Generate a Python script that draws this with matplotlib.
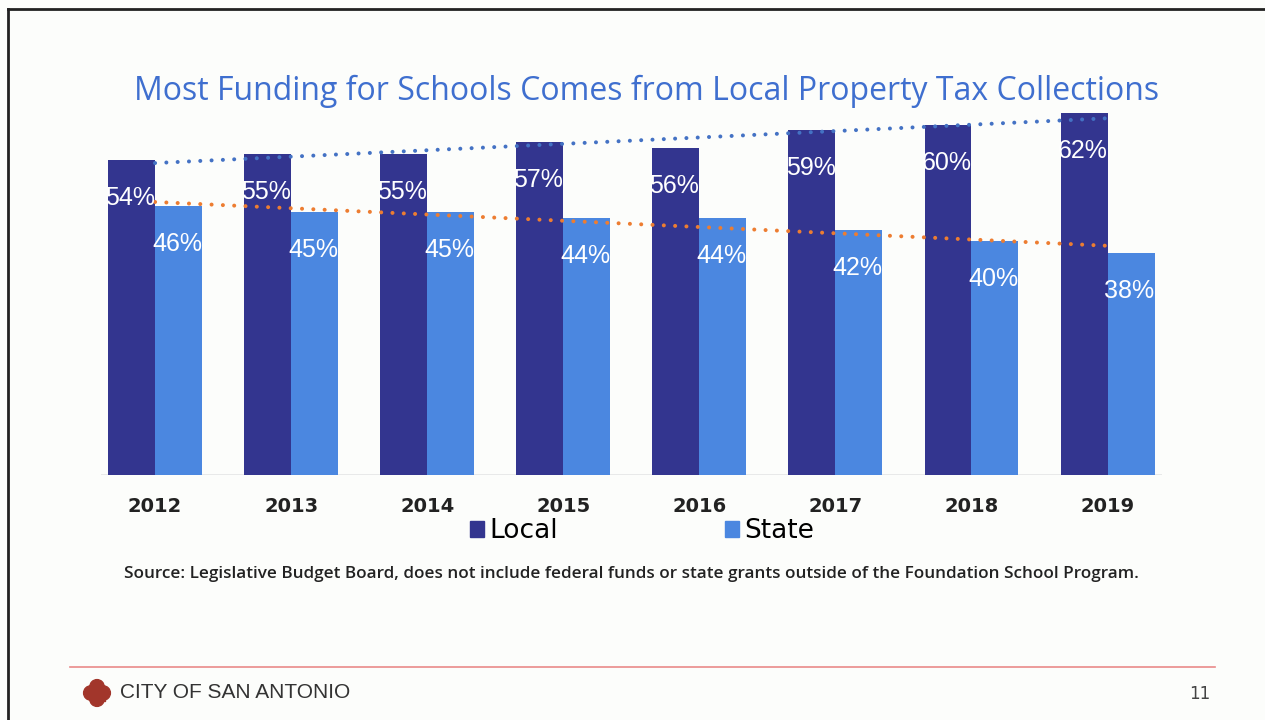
import numpy as np
import matplotlib.pyplot as plt
from matplotlib.lines import Line2D
from matplotlib.patches import Patch

years = ['2012', '2013', '2014', '2015', '2016', '2017', '2018', '2019']
local = [54, 55, 55, 57, 56, 59, 60, 62]
state = [46, 45, 45, 44, 44, 42, 40, 38]

title = 'Most Funding for Schools Comes from Local Property Tax Collections'
source = ('Source: Legislative Budget Board, does not include federal funds or '
          'state grants outside of the Foundation School Program.')

c_local = '#33358f'
c_state = '#4b87e0'

fig = plt.figure(figsize=(12.65, 7.2), dpi=100)
fig.patch.set_facecolor('#fcfdfb')

# axes: baseline at y=475px, 0..70 %
W, H = 1265, 720
left, right = 100.6, 1162
bottom, top = 475, 475 - 70 * 5.84
ax = fig.add_axes([left / W, 1 - bottom / H, (right - left) / W, (bottom - top) / H])
ax.set_facecolor('none')

x = np.arange(len(years))
bw = 0.345
ax.bar(x - bw / 2, local, bw, color=c_local, zorder=2)
ax.bar(x + bw / 2, state, bw, color=c_state, zorder=2)

for i in range(len(years)):
    ax.text(x[i], local[i] - 6.5, f'{local[i]}%', ha='right', va='center',
            color='white', fontsize=18, family='Liberation Sans', zorder=4)
    ax.text(x[i] + bw, state[i] - 6.5, f'{state[i]}%', ha='right', va='center',
            color='white', fontsize=18, family='Liberation Sans', zorder=4)

# linear trendlines
for vals, col in [(local, '#4472c4'), (state, '#ed7d31')]:
    k, b = np.polyfit(x, vals, 1)
    ax.plot(x, k * x + b, linestyle=(0, (0.01, 2.8)), color=col, lw=2.9, zorder=3,
            dash_capstyle='round')

ax.set_xlim(-0.4, 7.4)
ax.set_ylim(0, 70)
ax.axhline(0, color='#e4e6e6', lw=1.2, zorder=1)
for s in ax.spines.values():
    s.set_visible(False)
ax.set_yticks([])
ax.set_xticks(x)
ax.set_xticklabels(years, fontsize=14, fontweight='bold', color='#222222',
                   family='DejaVu Sans')
ax.tick_params(axis='x', length=0, pad=16)

handles = [Patch(color=c_local, label='Local'), Patch(color=c_state, label='State')]
fig.legend(handles=handles, loc='center', bbox_to_anchor=(642 / W, 1 - 531 / H),
           ncol=2, frameon=False, handlelength=0.55, handleheight=0.55,
           handletextpad=0.2, columnspacing=6.3,
           prop={'family': 'DejaVu Sans', 'size': 19})

fig.text(647 / W, 1 - 91 / H, title, ha='center', va='center', fontsize=23,
         color='#3f6fcf', family='Open Sans')
fig.text(631 / W, 1 - 574 / H, source, ha='center', va='center', fontsize=12.3,
         color='#222222', family='Open Sans', fontweight='semibold')

# slide frame and footer
fig.add_artist(Line2D([8 / W, 8 / W], [0, 1 - 9 / H], color='#222222', lw=2))
fig.add_artist(Line2D([8 / W, 1], [1 - 9 / H, 1 - 9 / H], color='#222222', lw=2))
fig.add_artist(Line2D([70 / W, 1215 / W], [1 - 667 / H, 1 - 667 / H], color='#e98a8a', lw=1.2))
logo_ax = fig.add_axes([81 / W, 1 - 709 / H, 32 / W, 32 / H])
logo_ax.set_xlim(-1.6, 1.6)
logo_ax.set_ylim(-1.6, 1.6)
logo_ax.axis('off')
for dx, dy in [(0.62, 0), (-0.62, 0), (0, 0.62), (0, -0.62)]:
    logo_ax.add_patch(plt.Circle((dx, dy), 0.72, color='#a2362b'))
logo_ax.add_patch(plt.Rectangle((-0.75, -0.75), 1.5, 1.5, color='#a2362b'))
fig.text(120 / W, 1 - 693 / H, 'CITY OF SAN ANTONIO', ha='left', va='center',
         fontsize=15, color='#333333', family='Liberation Sans')
fig.text(1200 / W, 1 - 694 / H, '11', ha='center', va='center', fontsize=12,
         color='#444444', family='DejaVu Sans')

fig.savefig('out.png', dpi=100, facecolor=fig.get_facecolor())
